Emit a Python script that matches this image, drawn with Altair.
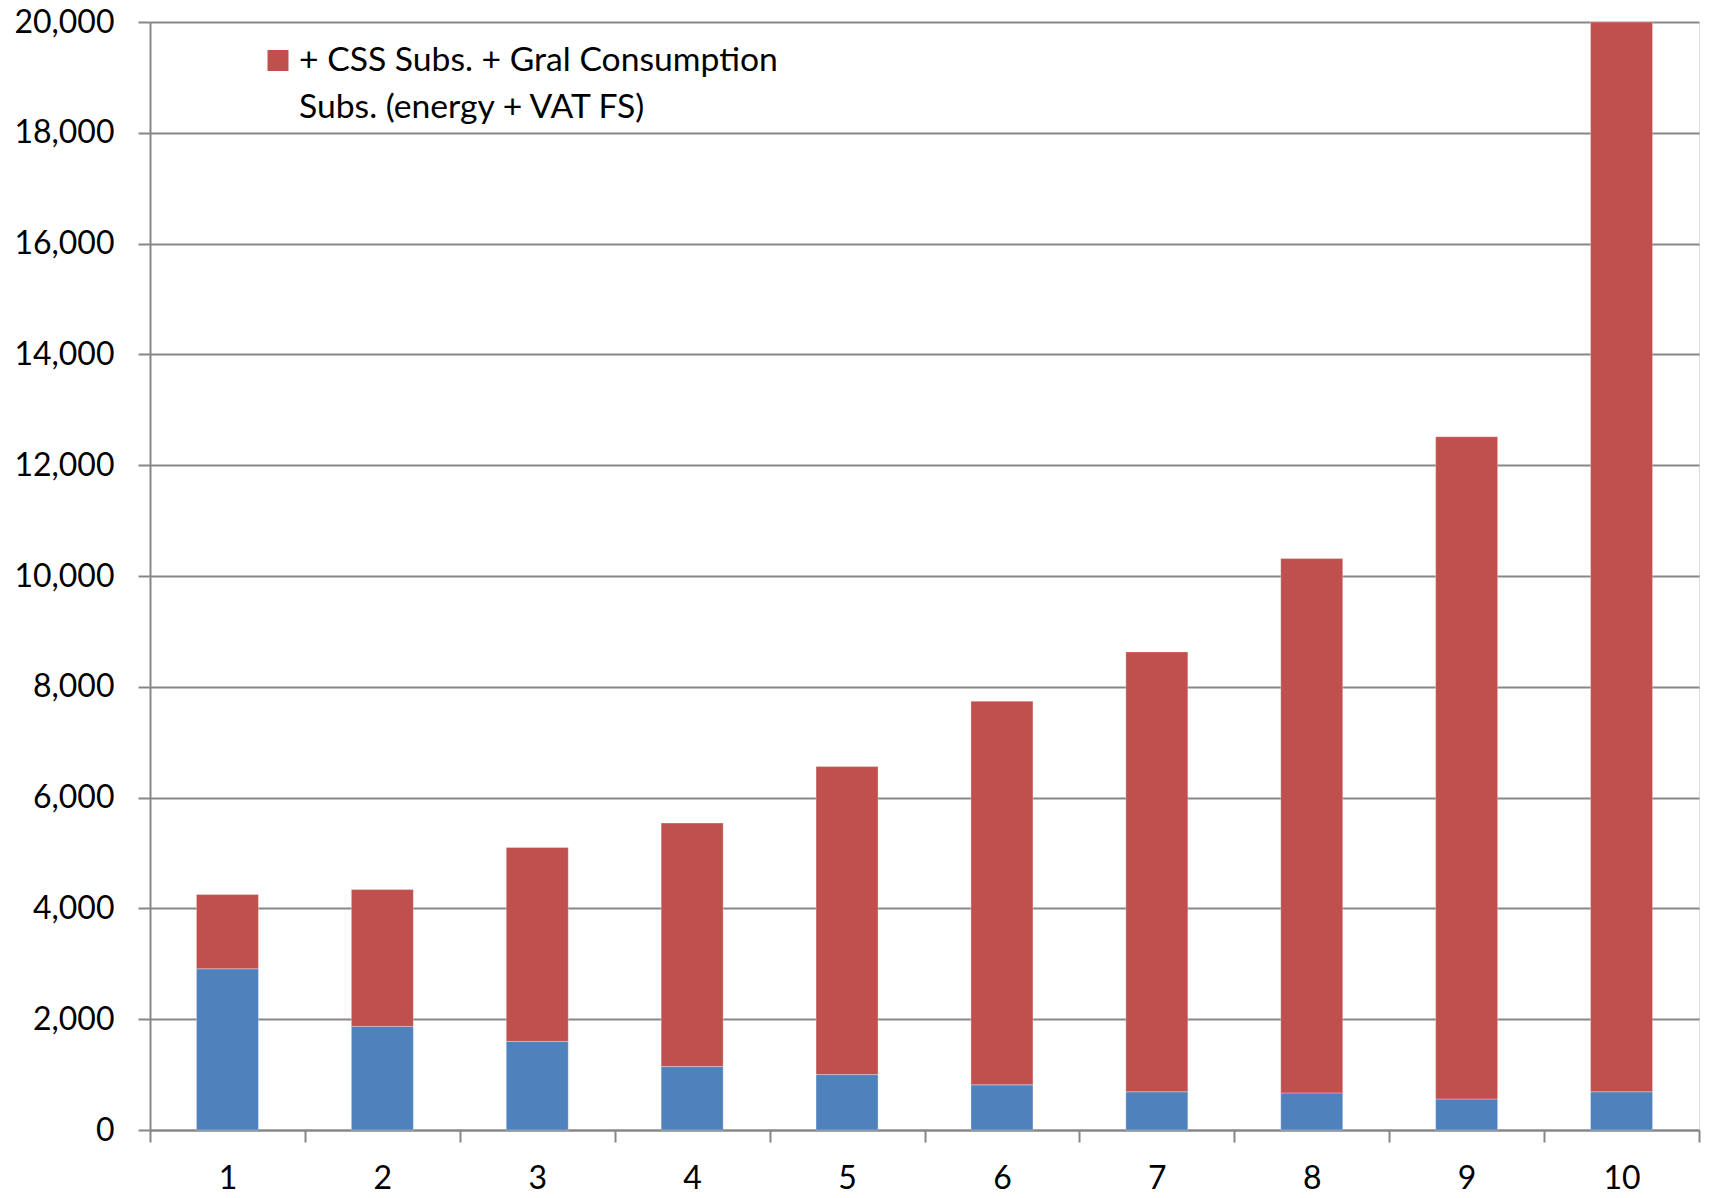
import altair as alt
import pandas as pd

categories = [1, 2, 3, 4, 5, 6, 7, 8, 9, 10]
base_values = [2910, 1870, 1600, 1145, 1000, 815, 690, 670, 560, 690]
css_values = [1340, 2470, 3500, 4395, 5560, 6925, 7940, 9645, 11955, 19310]
series_names = ["Base", "+ CSS Subs. + Gral Consumption Subs. (energy + VAT FS)"]
series_colors = ["#4F81BD", "#C0504D"]
legend_lines = ["+ CSS Subs. + Gral Consumption", "Subs. (energy + VAT FS)"]
y_ticks = list(range(0, 20001, 2000))
x_tick_values = [0.5, 1, 1.5, 2, 2.5, 3, 3.5, 4, 4.5, 5, 5.5, 6, 6.5, 7, 7.5,
                 8, 8.5, 9, 9.5, 10, 10.5]

rows = []
for c, b, r in zip(categories, base_values, css_values):
    rows.append({"cat": c, "series": series_names[0], "value": b, "order": 0})
    rows.append({"cat": c, "series": series_names[1], "value": r, "order": 1})
df = pd.DataFrame(rows)

FONT = "Lato"
GRAY = "#878787"

bars = alt.Chart(df).mark_bar(width=62, stroke="#ffffff", strokeWidth=0.6, strokeOpacity=0.5).encode(
    x=alt.X("cat:Q",
            scale=alt.Scale(domain=[0.5, 10.5], nice=False, zero=False, padding=0),
            axis=alt.Axis(values=x_tick_values, title=None, grid=False,
                          labelExpr="datum.value % 1 === 0 ? format(datum.value, 'd') : ''",
                          tickOpacity={"condition": {"test": "datum.value % 1 === 0", "value": 0}, "value": 1},
                          tickSize=12, tickWidth=2, tickColor=GRAY,
                          domainColor=GRAY, domainWidth=2,
                          labelFont=FONT, labelFontSize=32, labelColor="#000000",
                          labelPadding=21, labelOverlap=False, labelFlush=False)),
    y=alt.Y("value:Q", stack="zero",
            scale=alt.Scale(domain=[0, 20000], nice=False, clamp=True, padding=0),
            axis=alt.Axis(values=y_ticks, title=None,
                          labelExpr="format(datum.value, ',d')",
                          grid=True, gridColor=GRAY, gridWidth=2,
                          tickSize=12, tickWidth=2, tickColor=GRAY,
                          domainColor=GRAY, domainWidth=2,
                          labelFont=FONT, labelFontSize=32, labelColor="#000000",
                          labelPadding=24, labelFlush=False)),
    color=alt.Color("series:N",
                    scale=alt.Scale(domain=series_names, range=series_colors),
                    legend=None),
    order=alt.Order("order:Q"),
)

legend_symbol = alt.Chart(pd.DataFrame({"k": [0]})).mark_square(
    size=441, color=series_colors[1], opacity=1
).encode(x=alt.value(128), y=alt.value(38.5))

legend_text = alt.Chart(pd.DataFrame({"k": [0]})).mark_text(
    align="left", baseline="middle", font=FONT, fontSize=33.7, color="#000000",
    lineHeight=47, text=legend_lines
).encode(x=alt.value(149), y=alt.value(38.5))

chart = alt.layer(bars, legend_symbol, legend_text).properties(
    width=1549, height=1108,
    autosize=alt.AutoSizeParams(type="none"),
    padding={"left": 142, "top": 14, "right": 8, "bottom": 60},
).configure_view(stroke=None).configure(background="#ffffff")

chart.save("out.html", embed_options={"renderer": "svg", "actions": False})
